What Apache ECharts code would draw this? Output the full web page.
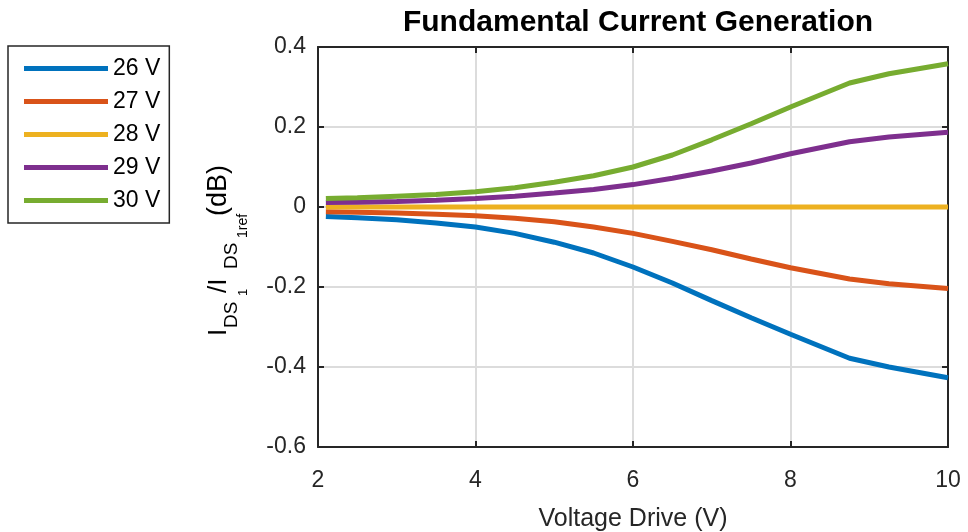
<!DOCTYPE html>
<html>
<head>
<meta charset="utf-8">
<script src="https://cdn.jsdelivr.net/npm/echarts@6/dist/echarts.min.js"></script>
<style>
    html, body { margin: 0; padding: 0; background: #fff; }
    #chart { width: 968px; height: 532px; }
</style>
</head>
<body>
<div id="chart"></div>
<script>
const FONT = 'Liberation Sans, Arial, Helvetica, sans-serif';

const drive = [2.1, 2.5, 3, 3.5, 4, 4.5, 5, 5.5, 6, 6.5, 7, 7.5, 8, 8.75, 9.25, 10];
const v26 = [-0.024, -0.027, -0.032, -0.04, -0.05, -0.066, -0.088, -0.115, -0.15, -0.19, -0.234, -0.277, -0.318, -0.378, -0.4, -0.427];
const v27 = [-0.012, -0.013, -0.015, -0.018, -0.022, -0.028, -0.037, -0.05, -0.066, -0.086, -0.107, -0.13, -0.152, -0.18, -0.192, -0.204];
const v28 = [0, 0, 0, 0, 0, 0, 0, 0, 0, 0, 0, 0, 0, 0, 0, 0];
const v29 = [0.011, 0.012, 0.014, 0.017, 0.021, 0.027, 0.035, 0.044, 0.056, 0.072, 0.09, 0.11, 0.133, 0.163, 0.175, 0.187];
const v30 = [0.021, 0.023, 0.027, 0.031, 0.038, 0.048, 0.062, 0.078, 0.1, 0.13, 0.168, 0.208, 0.25, 0.31, 0.333, 0.358];

const seriesNames = ['26 V', '27 V', '28 V', '29 V', '30 V'];
const seriesValues = [v26, v27, v28, v29, v30];
const colors = ['#0072BD', '#D95319', '#EDB120', '#7E2F8E', '#77AC30'];

const el = document.getElementById('chart');
const myChart = echarts.init(el);

// y label pieces: text, font size, offset along the text, baseline shift (subscripts go right)
const labelParts = [
    ['I', 26, -3, 0],
    ['DS', 19, 5, 11],
    ['1', 13, 37, 21],
    ['/I', 26, 40, 0],
    ['DS', 19, 64, 11],
    ['1ref', 14, 95, 21],
    ['(dB)', 27, 117, 0],
];
const labelChildren = labelParts.map(([t, s, x, shift]) => ({
    type: 'text',
    x,
    y: shift - 0.32 * s,
    style: {
        text: t,
        fontSize: s,
        fontFamily: FONT,
        fill: '#000',
        verticalAlign: 'middle',
        align: 'left',
    },
}));

const axisColor = '#262626';
const baseX = {
    type: 'value',
    min: 2,
    max: 10,
    interval: 2,
    axisLine: { onZero: false, lineStyle: { color: axisColor, width: 2 } },
    axisTick: { inside: true, length: 6, lineStyle: { color: axisColor, width: 2 } },
};
const baseY = {
    type: 'value',
    min: -0.6,
    max: 0.4,
    interval: 0.2,
    axisLine: { show: true, onZero: false, lineStyle: { color: axisColor, width: 2 } },
    axisTick: { show: true, inside: true, length: 6, lineStyle: { color: axisColor, width: 2 } },
};

const option = {
    backgroundColor: '#fff',
    animation: false,
    title: {
        text: 'Fundamental Current Generation',
        left: 633,
        top: 3,
        textAlign: 'center',
        textStyle: { fontFamily: FONT, fontSize: 30, fontWeight: 'bold', color: '#000' },
    },
    grid: {
        left: 318,
        right: 20,
        top: 47,
        bottom: 85,
        containLabel: false,
        outerBoundsMode: 'none',
    },
    legend: {
        orient: 'vertical',
        left: 8,
        top: 46,
        padding: [11, 9, 11, 16],
        icon: 'rect',
        itemWidth: 84,
        itemHeight: 5,
        itemGap: 10,
        borderColor: axisColor,
        borderWidth: 1.5,
        textStyle: { fontFamily: FONT, fontSize: 23, color: '#000' },
        data: seriesNames,
    },
    xAxis: [
        {
            ...baseX,
            position: 'bottom',
            name: 'Voltage Drive (V)',
            nameLocation: 'middle',
            nameGap: 60,
            nameTextStyle: { fontFamily: FONT, fontSize: 25, color: '#262626' },
            axisLabel: { margin: 22, fontFamily: FONT, fontSize: 23, color: '#262626' },
            splitLine: { show: true, lineStyle: { color: '#dcdcdc', width: 2 } },
        },
        {
            ...baseX,
            position: 'top',
            axisLabel: { show: false },
            splitLine: { show: false },
        },
    ],
    yAxis: [
        {
            ...baseY,
            position: 'left',
            axisLabel: {
                margin: 12,
                fontFamily: FONT,
                fontSize: 23,
                color: '#262626',
                formatter: v => String(+v.toFixed(1)),
            },
            splitLine: { show: true, lineStyle: { color: '#dcdcdc', width: 2 } },
        },
        {
            ...baseY,
            position: 'right',
            axisLabel: { show: false },
            splitLine: { show: false },
        },
    ],
    graphic: [
        {
            type: 'group',
            x: 227,
            y: 333,
            rotation: Math.PI / 2,
            children: labelChildren,
        },
    ],
    series: seriesNames.map((name, i) => ({
        name,
        type: 'line',
        showSymbol: false,
        color: colors[i],
        lineStyle: { width: 5, color: colors[i] },
        itemStyle: { color: colors[i] },
        data: drive.map((x, j) => [x, seriesValues[i][j]]),
    })),
};
myChart.setOption(option);
window.addEventListener('resize', () => {
    myChart.resize();
});
</script>
</body>
</html>
